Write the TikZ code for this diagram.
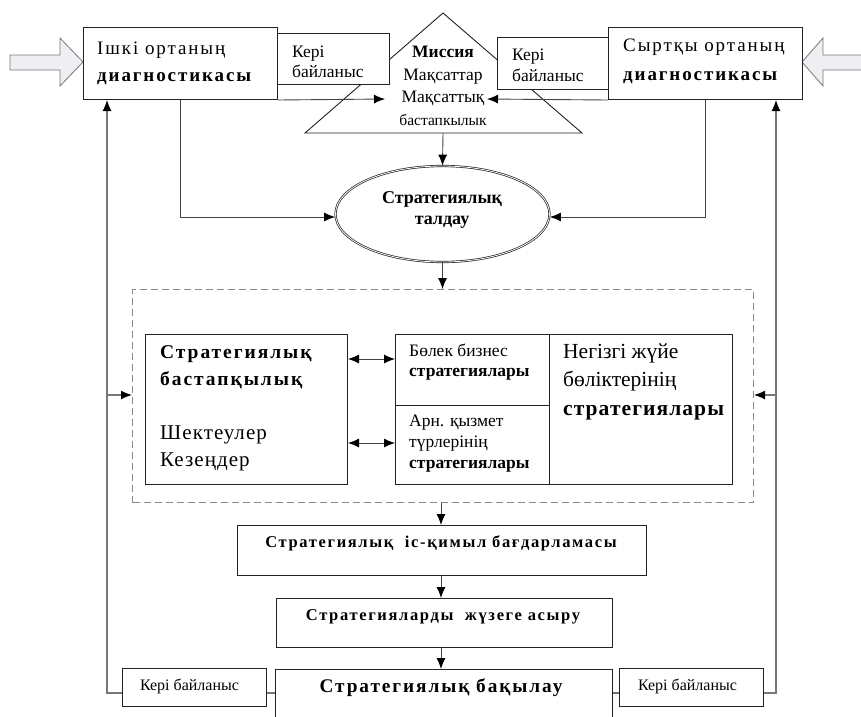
\documentclass[tikz,border=0pt]{standalone}
\usepackage{fontspec}
\setmainfont{Liberation Serif}
\newfontfamily\spacedfont[LetterSpace=10]{Liberation Serif}
\newfontfamily\lightspaced[LetterSpace=5]{Liberation Serif}
\usetikzlibrary{arrows.meta,shapes.geometric}
\definecolor{boxline}{HTML}{222222}
\definecolor{conline}{HTML}{444444}
\definecolor{fbline}{HTML}{777777}
\definecolor{dashline}{HTML}{888888}
\definecolor{bigarrow}{HTML}{EEEEF3}
\tikzset{
  box/.style={draw=boxline, line width=1pt, fill=white, inner sep=0pt, anchor=north west},
  txt/.style={inner sep=0pt, align=left, anchor=west},
  ctxt/.style={inner sep=0pt, align=center},
  tip/.style={-{Latex[length=11pt,width=9pt,color=black]}},
  con/.style={draw=conline, line width=0.9pt, tip},
  dcon/.style={draw=conline, line width=0.9pt, {Latex[length=11pt,width=9pt,color=black]}-{Latex[length=11pt,width=9pt,color=black]}},
  fb/.style={draw=fbline, line width=1.2pt},
  fbarrow/.style={draw=fbline, line width=1.2pt, tip},
  blockarrow/.style={draw=fbline, line width=0.8pt, fill=bigarrow},
}
\newcommand{\fs}[2]{\fontsize{#1}{#2}\selectfont}
\begin{document}
\begin{tikzpicture}[x=1pt,y=-1pt]
\clip (0,0) rectangle (861,716);
\fill[white] (0,0) rectangle (861,716);

% big input arrows
\draw[blockarrow] (10,55) -- (60,55) -- (60,38) -- (83,62) -- (60,86) -- (60,70) -- (10,70) -- cycle;
\draw[blockarrow] (865,55) -- (823,55) -- (823,38) -- (802,62) -- (823,86) -- (823,70) -- (865,70) -- cycle;

% triangle
\coordinate (apex) at (443,13);
\coordinate (tbl) at (305,133);
\coordinate (tbr) at (582,133);
\coordinate (tbase) at (443,133);
\draw[draw=boxline, line width=0.9pt] (apex) -- (tbl) -- (tbr) -- cycle;
\node[ctxt, font=\fs{17.5}{22.5}] (mission) at (443,86) {\textbf{Миссия}\\Мақсаттар\\Мақсаттық\\{\fs{15.5}{20}бастапкылык}};
\coordinate (mleft) at (385,99);
\coordinate (mright) at (487,99);

% top boxes
\node[box, minimum width=194pt, minimum height=72pt] (lbox) at (83,27) {};
\node[txt, font=\fs{19}{27}\spacedfont] (lboxt) at (97,63.5) {Ішкі ортаның\\\textbf{диагностикасы}};
\node[box, minimum width=112pt, minimum height=51pt] (kl) at (277,33) {};
\node[txt, font=\fs{17.5}{20}] (klt) at (292,62) {Кері\\байланыс};
\node[box, minimum width=111pt, minimum height=52pt] (kr) at (497,37) {};
\node[txt, font=\fs{17.5}{21}] (krt) at (512,65.5) {Кері\\байланыс};
\node[box, minimum width=194pt, minimum height=72pt] (rbox) at (608,27) {};
\node[txt, font=\fs{19}{29}\spacedfont] (rboxt) at (623,61.5) {Сыртқы ортаның\\\textbf{диагностикасы}};

% ellipse
\node[draw=boxline, double=white, double distance=0.8pt, line width=0.7pt, ellipse, minimum width=214pt, minimum height=96pt, inner sep=0pt, fill=white] (ell) at (442.5,214) {};
\node[ctxt, font=\fs{18}{21}\bfseries] (ellt) at (442,209.5) {Стратегиялық\\талдау};

% dashed frame
\node[draw=dashline, line width=1pt, dash pattern=on 7pt off 4pt, inner sep=0pt, anchor=north west, minimum width=621pt, minimum height=213pt] (frame) at (132,289) {};

% inner boxes
\node[box, minimum width=202pt, minimum height=150pt] (sb) at (145,334) {};
\node[txt, font=\fs{19.5}{27}] (sbt) at (160,408.5) {{\spacedfont\bfseries Стратегиялық}\\{\spacedfont\bfseries бастапқылық}\\[27pt]{\fs{21}{27}\lightspaced Шектеулер}\\{\fs{21}{27}\lightspaced Кезеңдер}};
\node[box, minimum width=154pt, minimum height=71pt] (mb1) at (395,334) {};
\node[txt, font=\fs{17.5}{20}] (mb1t) at (409,362) {Бөлек бизнес\\\textbf{стратегиялары}};
\node[box, minimum width=154pt, minimum height=79pt] (mb2) at (395,405) {};
\node[txt, font=\fs{17.5}{21}] (mb2t) at (409,444) {Арн. қызмет\\түрлерінің\\\textbf{стратегиялары}};
\node[box, minimum width=183pt, minimum height=150pt] (rb) at (549,334) {};
\node[txt, font=\fs{21.5}{28.5}] (rbt) at (563,381.5) {Негізгі жүйе\\бөліктерінің\\{\lightspaced\bfseries стратегиялары}};

% lower chain
\node[box, minimum width=409pt, minimum height=50pt] (b1) at (237,525) {};
\node[ctxt, font=\fs{16.5}{18}\spacedfont\bfseries] (b1t) at (441,543) {Стратегиялық\ \ іс-қимыл бағдарламасы};
\node[box, minimum width=336pt, minimum height=49pt] (b2) at (276,598) {};
\node[ctxt, font=\fs{16.5}{18}\spacedfont\bfseries] (b2t) at (443,617) {Стратегияларды\ \ жүзеге асыру};
\node[box, minimum width=337pt, minimum height=60pt] (b3) at (275,669) {};
\node[ctxt, font=\fs{19.3}{20}\spacedfont\bfseries] (b3t) at (441,688) {Стратегиялық бақылау};
\node[box, minimum width=144pt, minimum height=38pt] (kbl) at (122,668) {};
\node[ctxt, font=\fs{16}{18}] (kblt) at (189.5,686) {Кері байланыс};
\node[box, minimum width=144pt, minimum height=38pt] (kbr) at (619,668) {};
\node[ctxt, font=\fs{16}{18}] (kbrt) at (687.5,686) {Кері байланыс};

% connectors top
\draw[con] (lbox.south east) -- (mleft);
\draw[con] (rbox.south west) -- (mright);
\draw[con] (tbase) -- (ell.north);
\draw[con] (lbox.south -| 180,0) |- (ell.west |- 0,217);
\draw[con] (rbox.south -| 705,0) |- (ell.east |- 0,217);
\draw[con] (ell.south) -- (frame.north -| ell.south);

% double arrows
\draw[dcon] (sb.east |- 0,359) -- (mb1.west |- 0,359);
\draw[dcon] (sb.east |- 0,443) -- (mb2.west |- 0,443);

% chain
\draw[con] (frame.south -| b1t) -- (b1.north -| b1t);
\draw[con] (b1.south -| b1t) -- (b2.north -| b1t);
\draw[con] (b2.south -| b1t) -- (b3.north -| b1t);

% feedback loops
\coordinate (fl) at (107,693);
\coordinate (fr) at (776,693);
\draw[fb] (b3.west |- fl) -- (kbl.east |- fl);
\draw[fbarrow] (kbl.west |- fl) -- (fl) -- (lbox.south -| fl);
\draw[fbarrow] (fl |- 0,395) -- (frame.west |- 0,395);
\draw[fb] (b3.east |- fr) -- (kbr.west |- fr);
\draw[fbarrow] (kbr.east |- fr) -- (fr) -- (rbox.south -| fr);
\draw[fbarrow] (fr |- 0,395) -- (frame.east |- 0,395);
\end{tikzpicture}
\end{document}
